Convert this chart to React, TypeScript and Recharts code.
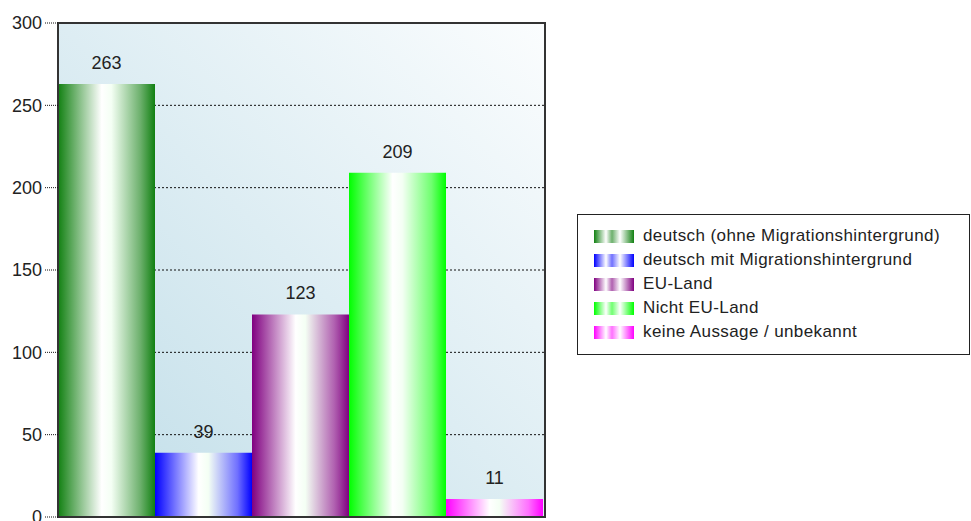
import { BarChart, Bar, XAxis, YAxis, CartesianGrid, LabelList, ReferenceArea } from "recharts";

const seriesKeys = ["s0", "s1", "s2", "s3", "s4"];
const seriesNames = [
  "deutsch (ohne Migrationshintergrund)",
  "deutsch mit Migrationshintergrund",
  "EU-Land",
  "Nicht EU-Land",
  "keine Aussage / unbekannt",
];
const seriesValues = [263, 39, 123, 209, 11];
const seriesColors = ["#118011", "#0000ff", "#800080", "#00ff00", "#ff00ff"];
const seriesMid = ["#6cb06c", "#7070ff", "#b060b0", "#70ff70", "#ff70ff"];
const yTicks = [0, 50, 100, 150, 200, 250, 300];

const row: Record<string, number | string> = { name: "" };
seriesKeys.forEach((k, i) => (row[k] = seriesValues[i]));
const data = [row];

const font = "'Liberation Sans', Arial, sans-serif";

function LegendBox() {
  return (
    <div
      style={{
        position: "absolute",
        left: 577,
        top: 214,
        border: "1px solid #222",
        width: 391,
        height: 130,
        background: "#fff",
        fontFamily: font,
        fontSize: 17,
        letterSpacing: 0.4,
        color: "#222",
        paddingTop: 9,
      }}
    >
      <svg width={0} height={0} style={{ position: "absolute" }}>
        <defs>
          {seriesColors.map((c, i) => (
            <linearGradient key={i} id={`sw${i}`} x1="0" x2="1" y1="0" y2="0">
              <stop offset="0" stopColor={c} />
              <stop offset="0.3" stopColor="#ffffff" />
              <stop offset="0.45" stopColor={seriesMid[i]} />
              <stop offset="0.65" stopColor="#ffffff" />
              <stop offset="1" stopColor={c} />
            </linearGradient>
          ))}
        </defs>
      </svg>
      {seriesNames.map((n, i) => (
        <div key={n} style={{ display: "flex", alignItems: "center", height: 24, paddingLeft: 16 }}>
          <svg width={40} height={13} style={{ marginRight: 9, flexShrink: 0 }}>
            <rect width={40} height={13} fill={`url(#sw${i})`} />
          </svg>
          <span style={{ whiteSpace: "nowrap" }}>{n}</span>
        </div>
      ))}
    </div>
  );
}

export default function App() {
  return (
    <div style={{ position: "fixed", left: 0, top: 0, width: 971, height: 521, background: "#fff" }}>
      <BarChart
        width={971}
        height={521}
        data={data}
        margin={{ top: 23, right: 426, bottom: 0, left: 0 }}
        barCategoryGap={0}
        barGap={0}
      >
        <defs>
          <linearGradient id="bg" x1="0" y1="1" x2="1" y2="0">
            <stop offset="0" stopColor="#bfdde8" />
            <stop offset="1" stopColor="#fbfdfe" />
          </linearGradient>
          {seriesColors.map((c, i) => (
            <linearGradient key={i} id={`g${i}`} x1="0" x2="1" y1="0" y2="0">
              <stop offset="0" stopColor={c} />
              <stop offset="0.45" stopColor="#ffffff" />
              <stop offset="0.55" stopColor="#f4fff4" />
              <stop offset="0.85" stopColor={seriesMid[i]} />
              <stop offset="1" stopColor={c} />
            </linearGradient>
          ))}
        </defs>
        <CartesianGrid
          vertical={false}
          fill="url(#bg)"
          fillOpacity={1}
          stroke="#111"
          strokeDasharray="2 2"
        />
        <XAxis
          dataKey="name"
          height={4}
          tickSize={4}
          tick={false}
          axisLine={{ stroke: "#333", strokeWidth: 2 }}
          tickLine={{ stroke: "#111" }}
        />
        <YAxis
          width={58}
          domain={[0, 300]}
          ticks={yTicks}
          interval={0}
          tickSize={13}
          tickMargin={3}
          axisLine={{ stroke: "#333", strokeWidth: 2 }}
          tickLine={{ stroke: "#111", strokeDasharray: "1 1" }}
          tick={{ fill: "#222", fontSize: 18, fontFamily: font }}
        />
        {seriesKeys.map((k, i) => (
          <Bar key={k} dataKey={k} name={seriesNames[i]} fill={`url(#g${i})`} isAnimationActive={false}>
            <LabelList
              dataKey={k}
              position="top"
              offset={15}
              style={{ fill: "#222", fontSize: 18, fontFamily: font }}
            />
          </Bar>
        ))}
        <ReferenceArea y1={0} y2={300} fill="none" stroke="#333" strokeWidth={2} ifOverflow="visible" />
      </BarChart>
      <LegendBox />
    </div>
  );
}
